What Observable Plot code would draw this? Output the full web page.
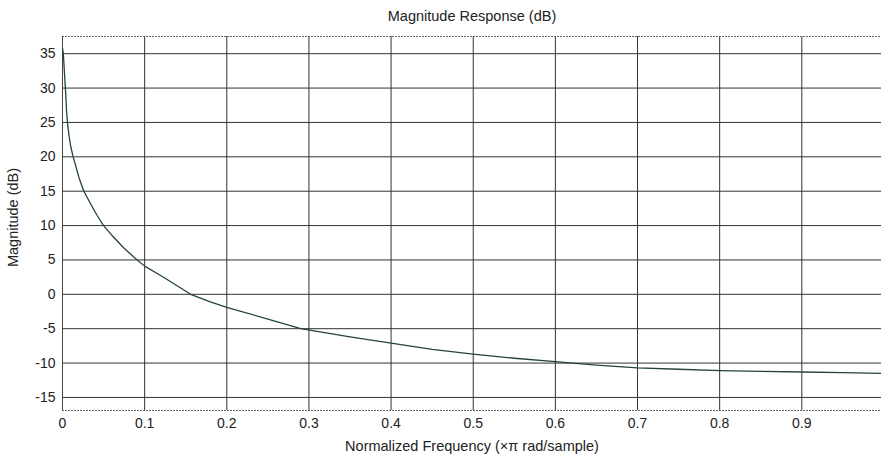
<!DOCTYPE html>
<html>
<head>
<meta charset="utf-8">
<script src="https://cdn.jsdelivr.net/npm/d3@7"></script>
<script src="https://cdn.jsdelivr.net/npm/@observablehq/plot@0.6"></script>
<style>
  html, body { margin: 0; padding: 0; background: #fff; }
  #chart svg { display: block; }
</style>
</head>
<body>
<div id="chart"></div>
<script>
// Normalized frequency (×π rad/sample)
const freq = [0, 0.001, 0.002, 0.003, 0.004, 0.005, 0.006, 0.008, 0.010, 0.013,
  0.02, 0.026, 0.035, 0.042, 0.05, 0.06, 0.075, 0.087, 0.1, 0.12,
  0.14, 0.156, 0.18, 0.2, 0.25, 0.29, 0.35, 0.4, 0.45, 0.5,
  0.55, 0.6, 0.65, 0.7, 0.75, 0.8, 0.85, 0.9, 0.95, 0.997];
// Magnitude (dB)
const magnitude = [35.8, 35, 33, 31, 29, 26.5, 25, 23, 21.5, 20,
  17, 15, 13, 11.5, 10, 8.6, 6.7, 5.4, 4.1, 2.7,
  1.2, 0, -1.1, -1.9, -3.6, -5, -6.2, -7.1, -8.0, -8.7,
  -9.3, -9.8, -10.3, -10.7, -10.9, -11.1, -11.2, -11.3, -11.4, -11.5];
const xTicks = [0, 0.1, 0.2, 0.3, 0.4, 0.5, 0.6, 0.7, 0.8, 0.9];
const yTicks = [-15, -10, -5, 0, 5, 10, 15, 20, 25, 30, 35];
const titleText = "Magnitude Response (dB)";
const xLabel = "Normalized Frequency (×π rad/sample)";
const yLabel = "Magnitude (dB)";

const data = freq.map((f, i) => ({f, m: magnitude[i]}));

const chart = Plot.plot({
  width: 881,
  height: 457,
  marginLeft: 62,
  marginRight: 0,
  marginTop: 36,
  marginBottom: 47,
  style: {fontFamily: "'Liberation Sans', Arial, sans-serif", fontSize: "14px", color: "#222", background: "#fff"},
  x: {domain: [0, 0.997]},
  y: {domain: [-16.9, 37.5]},
  marks: [
    Plot.ruleX(xTicks.slice(1), {stroke: "#333", strokeWidth: 1, strokeOpacity: 1}),
    Plot.ruleY(yTicks, {stroke: "#333", strokeWidth: 1, strokeOpacity: 1}),
    Plot.ruleY([37.5, -16.9], {stroke: "#666", strokeWidth: 1, strokeDasharray: "2,1"}),
    Plot.ruleX([0], {stroke: "#444", strokeWidth: 1}),
    Plot.axisX({ticks: xTicks, tickFormat: d => String(d), tickSize: 0, tickPadding: 8,
      label: null, fontSize: 14}),
    Plot.axisY({ticks: yTicks, tickFormat: d => String(d), tickSize: 0, tickPadding: 7,
      label: null, fontSize: 14}),
    Plot.line(data, {x: "f", y: "m", stroke: "#24433f", strokeWidth: 1.3}),
    Plot.text([titleText], {frameAnchor: "top", lineAnchor: "middle", dy: -20, text: d => d, fontSize: 14.5, fill: "#222"}),
    Plot.text([xLabel], {frameAnchor: "bottom", lineAnchor: "middle", dy: 36, text: d => d, fontSize: 14.5, fill: "#222"}),
    Plot.text([yLabel], {frameAnchor: "left", textAnchor: "middle", lineAnchor: "middle", dx: -49, dy: -6, rotate: -90, text: d => d, fontSize: 14.5, fill: "#222"})
  ]
});
document.getElementById("chart").appendChild(chart);
</script>
</body>
</html>
